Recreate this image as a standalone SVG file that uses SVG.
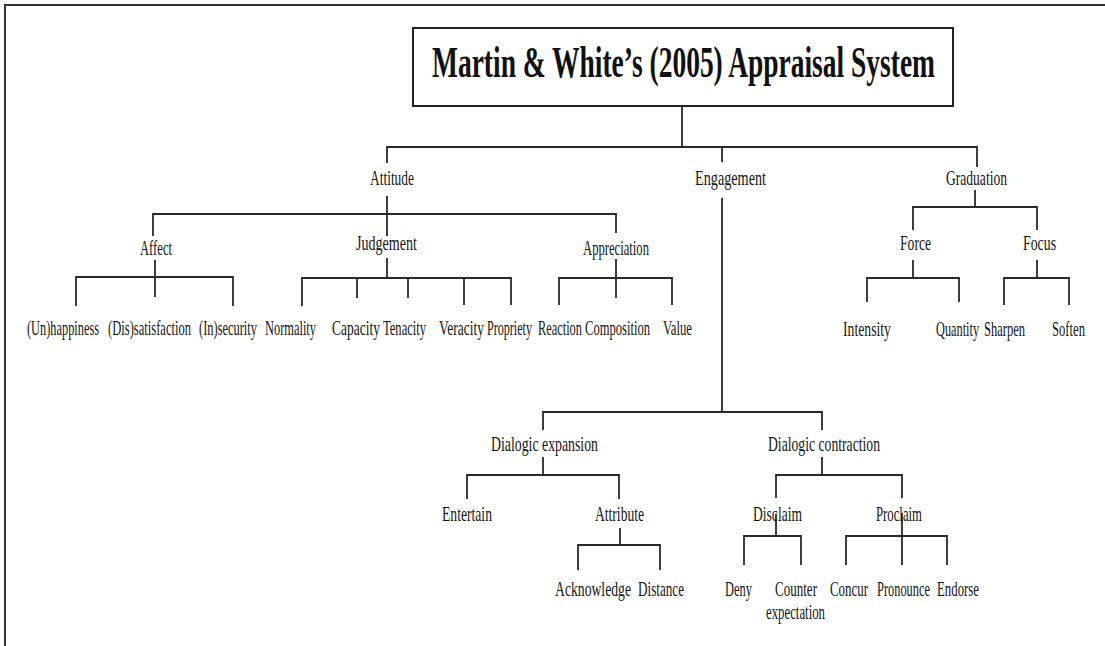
<svg xmlns="http://www.w3.org/2000/svg" width="1105" height="646" viewBox="0 0 1105 646">
<style>
  .lbl { font-family: "Liberation Serif", "Times New Roman", serif; font-size: 21px; fill: #151515; }
  .title { font-family: "Liberation Serif", "Times New Roman", serif; font-size: 45px; font-weight: bold; fill: #111; }
  .ln { stroke: #2a2a2a; stroke-width: 1.8; fill: none; }
  .frame { stroke: #333; stroke-width: 2; fill: none; }
</style>
<rect x="0" y="0" width="1105" height="646" fill="#ffffff"/>
<path class="frame" d="M5,646 V5 H1105"/>

<g id="title">
  <rect x="413" y="28" width="540" height="78" fill="#fff" stroke="#222" stroke-width="2"/>
  <text class="title" transform="translate(432,77) scale(0.61,1)" x="0" y="0" textLength="824.6" lengthAdjust="spacingAndGlyphs">Martin &amp; White’s (2005) Appraisal System</text>
</g>

<g id="connectors" class="ln">
  <path d="M682,106 V147 M387,163 V147 H977 V167 M722,147 V162"/>
  <path d="M387,196 V236 M153,236 V214 H616 V233"/>
  <path d="M155,260 V297 M76,306 V277 H233 V306"/>
  <path d="M387,258 V278 M302,306 V278 H511 V305 M357,278 V298 M408,278 V298 M464,278 V305"/>
  <path d="M616,259 V298 M559,305 V278 H672 V305"/>
  <path d="M975,190 V207 M913,230 V207 H1037 V230"/>
  <path d="M913,260 V278 M867,302 V278 H959 V302"/>
  <path d="M1037,260 V278 M1004,305 V278 H1069 V305"/>
  <path d="M722,198 V412 M543,430 V412 H822 V430"/>
  <path d="M543,457 V475 M467,499 V475 H619 V499"/>
  <path d="M620,528 V545 M578,570 V545 H660 V570"/>
  <path d="M822,457 V475 M776,498 V475 H902 V498"/>
  <path d="M776,514 V536 M744,565 V536 H801 V565"/>
  <path d="M902,513 V565 M846,565 V536 H947 V565"/>
</g>

<g id="attitude"><text class="lbl" transform="translate(370,185) scale(0.65,1)" textLength="67.7" lengthAdjust="spacingAndGlyphs">Attitude</text></g>
<g id="engagement"><text class="lbl" transform="translate(695,185) scale(0.65,1)" textLength="109.2" lengthAdjust="spacingAndGlyphs">Engagement</text></g>
<g id="graduation"><text class="lbl" transform="translate(946,185) scale(0.65,1)" textLength="93.8" lengthAdjust="spacingAndGlyphs">Graduation</text></g>

<g id="affect"><text class="lbl" transform="translate(140,255) scale(0.65,1)" textLength="49.2" lengthAdjust="spacingAndGlyphs">Affect</text></g>
<g id="judgement"><text class="lbl" transform="translate(356,250) scale(0.65,1)" textLength="93.8" lengthAdjust="spacingAndGlyphs">Judgement</text></g>
<g id="appreciation"><text class="lbl" transform="translate(583,255) scale(0.65,1)" textLength="101.5" lengthAdjust="spacingAndGlyphs">Appreciation</text></g>
<g id="force"><text class="lbl" transform="translate(900,250) scale(0.65,1)" textLength="47.7" lengthAdjust="spacingAndGlyphs">Force</text></g>
<g id="focus"><text class="lbl" transform="translate(1023,250) scale(0.65,1)" textLength="50.8" lengthAdjust="spacingAndGlyphs">Focus</text></g>

<g id="unhappiness"><text class="lbl" transform="translate(27,335) scale(0.65,1)" textLength="110.8" lengthAdjust="spacingAndGlyphs">(Un)happiness</text></g>
<g id="dissatisfaction"><text class="lbl" transform="translate(108,335) scale(0.65,1)" textLength="127.7" lengthAdjust="spacingAndGlyphs">(Dis)satisfaction</text></g>
<g id="insecurity"><text class="lbl" transform="translate(199,335) scale(0.65,1)" textLength="89.2" lengthAdjust="spacingAndGlyphs">(In)security</text></g>
<g id="normality"><text class="lbl" transform="translate(265,335) scale(0.65,1)" textLength="78.5" lengthAdjust="spacingAndGlyphs">Normality</text></g>
<g id="capacity"><text class="lbl" transform="translate(332,335) scale(0.65,1)" textLength="73.8" lengthAdjust="spacingAndGlyphs">Capacity</text></g>
<g id="tenacity"><text class="lbl" transform="translate(383,335) scale(0.65,1)" textLength="66.2" lengthAdjust="spacingAndGlyphs">Tenacity</text></g>
<g id="veracity"><text class="lbl" transform="translate(439,335) scale(0.65,1)" textLength="69.2" lengthAdjust="spacingAndGlyphs">Veracity</text></g>
<g id="propriety"><text class="lbl" transform="translate(487,335) scale(0.65,1)" textLength="69.2" lengthAdjust="spacingAndGlyphs">Propriety</text></g>
<g id="reaction"><text class="lbl" transform="translate(538,335) scale(0.65,1)" textLength="67.7" lengthAdjust="spacingAndGlyphs">Reaction</text></g>
<g id="composition"><text class="lbl" transform="translate(585,335) scale(0.65,1)" textLength="100" lengthAdjust="spacingAndGlyphs">Composition</text></g>
<g id="value"><text class="lbl" transform="translate(663,335) scale(0.65,1)" textLength="44.6" lengthAdjust="spacingAndGlyphs">Value</text></g>
<g id="intensity"><text class="lbl" transform="translate(843,336) scale(0.65,1)" textLength="73.8" lengthAdjust="spacingAndGlyphs">Intensity</text></g>
<g id="quantity"><text class="lbl" transform="translate(936,336) scale(0.65,1)" textLength="66.2" lengthAdjust="spacingAndGlyphs">Quantity</text></g>
<g id="sharpen"><text class="lbl" transform="translate(984,336) scale(0.65,1)" textLength="63.1" lengthAdjust="spacingAndGlyphs">Sharpen</text></g>
<g id="soften"><text class="lbl" transform="translate(1052,336) scale(0.65,1)" textLength="50.8" lengthAdjust="spacingAndGlyphs">Soften</text></g>

<g id="dialogic-expansion"><text class="lbl" transform="translate(491,451) scale(0.65,1)" textLength="164.6" lengthAdjust="spacingAndGlyphs">Dialogic expansion</text></g>
<g id="dialogic-contraction"><text class="lbl" transform="translate(768,451) scale(0.65,1)" textLength="172.3" lengthAdjust="spacingAndGlyphs">Dialogic contraction</text></g>
<g id="entertain"><text class="lbl" transform="translate(442,521) scale(0.65,1)" textLength="76.9" lengthAdjust="spacingAndGlyphs">Entertain</text></g>
<g id="attribute"><text class="lbl" transform="translate(595,521) scale(0.65,1)" textLength="75.4" lengthAdjust="spacingAndGlyphs">Attribute</text></g>
<g id="disclaim"><text class="lbl" transform="translate(753,521) scale(0.65,1)" textLength="75.4" lengthAdjust="spacingAndGlyphs">Disclaim</text></g>
<g id="proclaim"><text class="lbl" transform="translate(876,521) scale(0.65,1)" textLength="70.8" lengthAdjust="spacingAndGlyphs">Proclaim</text></g>
<g id="acknowledge"><text class="lbl" transform="translate(555,596) scale(0.65,1)" textLength="116.9" lengthAdjust="spacingAndGlyphs">Acknowledge</text></g>
<g id="distance"><text class="lbl" transform="translate(638,596) scale(0.65,1)" textLength="70.8" lengthAdjust="spacingAndGlyphs">Distance</text></g>
<g id="deny"><text class="lbl" transform="translate(725,596) scale(0.65,1)" textLength="41.5" lengthAdjust="spacingAndGlyphs">Deny</text></g>
<g id="counter-expectation">
  <text class="lbl" transform="translate(775,596) scale(0.65,1)" textLength="64.6" lengthAdjust="spacingAndGlyphs">Counter</text>
  <text class="lbl" transform="translate(766,619) scale(0.65,1)" textLength="90.8" lengthAdjust="spacingAndGlyphs">expectation</text>
</g>
<g id="concur"><text class="lbl" transform="translate(830,596) scale(0.65,1)" textLength="58.5" lengthAdjust="spacingAndGlyphs">Concur</text></g>
<g id="pronounce"><text class="lbl" transform="translate(877,596) scale(0.65,1)" textLength="81.5" lengthAdjust="spacingAndGlyphs">Pronounce</text></g>
<g id="endorse"><text class="lbl" transform="translate(937,596) scale(0.65,1)" textLength="64.6" lengthAdjust="spacingAndGlyphs">Endorse</text></g>
</svg>
